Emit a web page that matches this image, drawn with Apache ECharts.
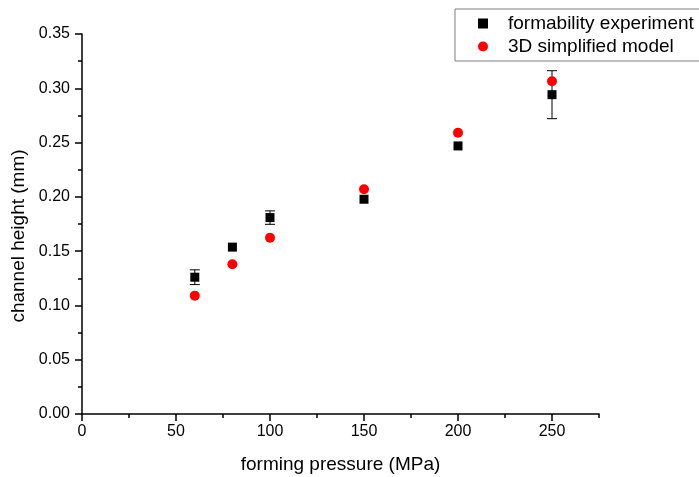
<!DOCTYPE html>
<html>
<head>
<meta charset="utf-8">
<script src="https://cdn.jsdelivr.net/npm/echarts@6/dist/echarts.min.js"></script>
<style>
  html, body { margin: 0; padding: 0; background: #ffffff; }
  #chart { width: 699px; height: 477px; }
</style>
</head>
<body>
<div id="chart"></div>
<script>
// Forming pressure (MPa) at which channels were formed
const pressure = [60, 80, 100, 150, 200, 250];
// Measured channel height (mm) and its spread
const experiment = [0.126, 0.1537, 0.1809, 0.1978, 0.2469, 0.2941];
const experimentError = [0.0068, 0, 0.0062, 0, 0, 0.0221];
// Channel height predicted by the 3D simplified model (mm)
const model = [0.109, 0.1379, 0.1624, 0.207, 0.2591, 0.3064];

const xMajorTicks = [0, 50, 100, 150, 200, 250];
const yMajorTicks = [0, 0.05, 0.1, 0.15, 0.2, 0.25, 0.3, 0.35];

const FONT = '"Liberation Sans", Arial, sans-serif';
const GRID = { left: 82, right: 100, top: 34, bottom: 63, outerBoundsMode: 'none', containLabel: false };

const chart = echarts.init(document.getElementById('chart'), null, { renderer: 'canvas' });

const expData = pressure.map((p, i) => [p, experiment[i]]);
const modelData = pressure.map((p, i) => [p, model[i]]);
const errData = pressure.map((p, i) => [p, experiment[i], experimentError[i]]);

chart.setOption({
  backgroundColor: '#ffffff',
  animation: false,
  grid: [
    Object.assign({}, GRID),
    Object.assign({}, GRID)
  ],
  legend: {
    left: 455,
    top: 9,
    orient: 'vertical',
    backgroundColor: '#ffffff',
    borderColor: '#7f7f7f',
    borderWidth: 1,
    borderRadius: 0,
    padding: [5, 18, 5, 23],
    itemWidth: 10,
    itemHeight: 10,
    itemGap: 4,
    itemStyle: { opacity: 1 },
    textStyle: { fontFamily: FONT, fontSize: 19, color: '#000', padding: [0, 0, 0, 15] },
    data: [
      { name: 'formability experiment', icon: 'rect' },
      { name: '3D simplified model', icon: 'circle' }
    ]
  },
  xAxis: [
    {
      gridIndex: 0,
      type: 'value',
      min: 0,
      max: 275,
      interval: 25,
      name: 'forming pressure (MPa)',
      nameLocation: 'middle',
      nameGap: 41,
      nameTextStyle: { fontFamily: FONT, fontSize: 19, color: '#000' },
      axisLine: { show: true, onZero: false, lineStyle: { color: '#000', width: 1.5 } },
      axisTick: { show: true, inside: false, length: 4, lineStyle: { color: '#000', width: 1.5 } },
      axisLabel: {
        customValues: xMajorTicks,
        margin: 10,
        fontFamily: FONT, fontSize: 16, color: '#000',
        formatter: v => String(v)
      },
      splitLine: { show: false }
    },
    {
      // longer marks at the labelled pressures
      gridIndex: 1,
      type: 'value',
      min: 0,
      max: 275,
      axisLine: { show: false, onZero: false },
      axisTick: { show: true, inside: false, length: 7, customValues: xMajorTicks, lineStyle: { color: '#000', width: 1.5 } },
      axisLabel: { show: false },
      splitLine: { show: false }
    }
  ],
  yAxis: [
    {
      gridIndex: 0,
      type: 'value',
      min: 0,
      max: 0.35,
      interval: 0.025,
      name: 'channel height (mm)',
      nameLocation: 'middle',
      nameGap: 50,
      nameTextStyle: { fontFamily: FONT, fontSize: 19, color: '#000', padding: [0, 24, 0, 0] },
      axisLine: { show: true, onZero: false, lineStyle: { color: '#000', width: 1.5 } },
      axisTick: { show: true, inside: false, length: 4, lineStyle: { color: '#000', width: 1.5 } },
      axisLabel: {
        customValues: yMajorTicks,
        margin: 12,
        fontFamily: FONT, fontSize: 16, color: '#000',
        formatter: v => v.toFixed(2)
      },
      splitLine: { show: false }
    },
    {
      gridIndex: 1,
      type: 'value',
      min: 0,
      max: 0.35,
      axisLine: { show: false, onZero: false },
      axisTick: { show: true, inside: false, length: 7, customValues: yMajorTicks, lineStyle: { color: '#000', width: 1.5 } },
      axisLabel: { show: false },
      splitLine: { show: false }
    }
  ],
  series: [
    {
      // error bars of the measured heights
      type: 'custom',
      xAxisIndex: 0,
      yAxisIndex: 0,
      z: 1,
      silent: true,
      data: errData,
      renderItem: function (params, api) {
        const x = api.value(0), y = api.value(1), e = api.value(2);
        if (!e) return null;
        const top = api.coord([x, y + e]);
        const bot = api.coord([x, y - e]);
        const cap = 5;
        const style = { stroke: '#000', lineWidth: 1 };
        return {
          type: 'group',
          children: [
            { type: 'line', shape: { x1: top[0], y1: top[1], x2: bot[0], y2: bot[1] }, style: style },
            { type: 'line', shape: { x1: top[0] - cap, y1: top[1], x2: top[0] + cap, y2: top[1] }, style: style },
            { type: 'line', shape: { x1: bot[0] - cap, y1: bot[1], x2: bot[0] + cap, y2: bot[1] }, style: style }
          ]
        };
      }
    },
    {
      name: 'formability experiment',
      type: 'scatter',
      xAxisIndex: 0,
      yAxisIndex: 0,
      z: 2,
      symbol: 'rect',
      symbolSize: 9,
      itemStyle: { color: '#000000', opacity: 1 },
      data: expData
    },
    {
      name: '3D simplified model',
      type: 'scatter',
      xAxisIndex: 0,
      yAxisIndex: 0,
      z: 3,
      symbol: 'circle',
      symbolSize: 10,
      itemStyle: { color: '#ff0000', opacity: 1 },
      data: modelData
    }
  ]
});
</script>
</body>
</html>
